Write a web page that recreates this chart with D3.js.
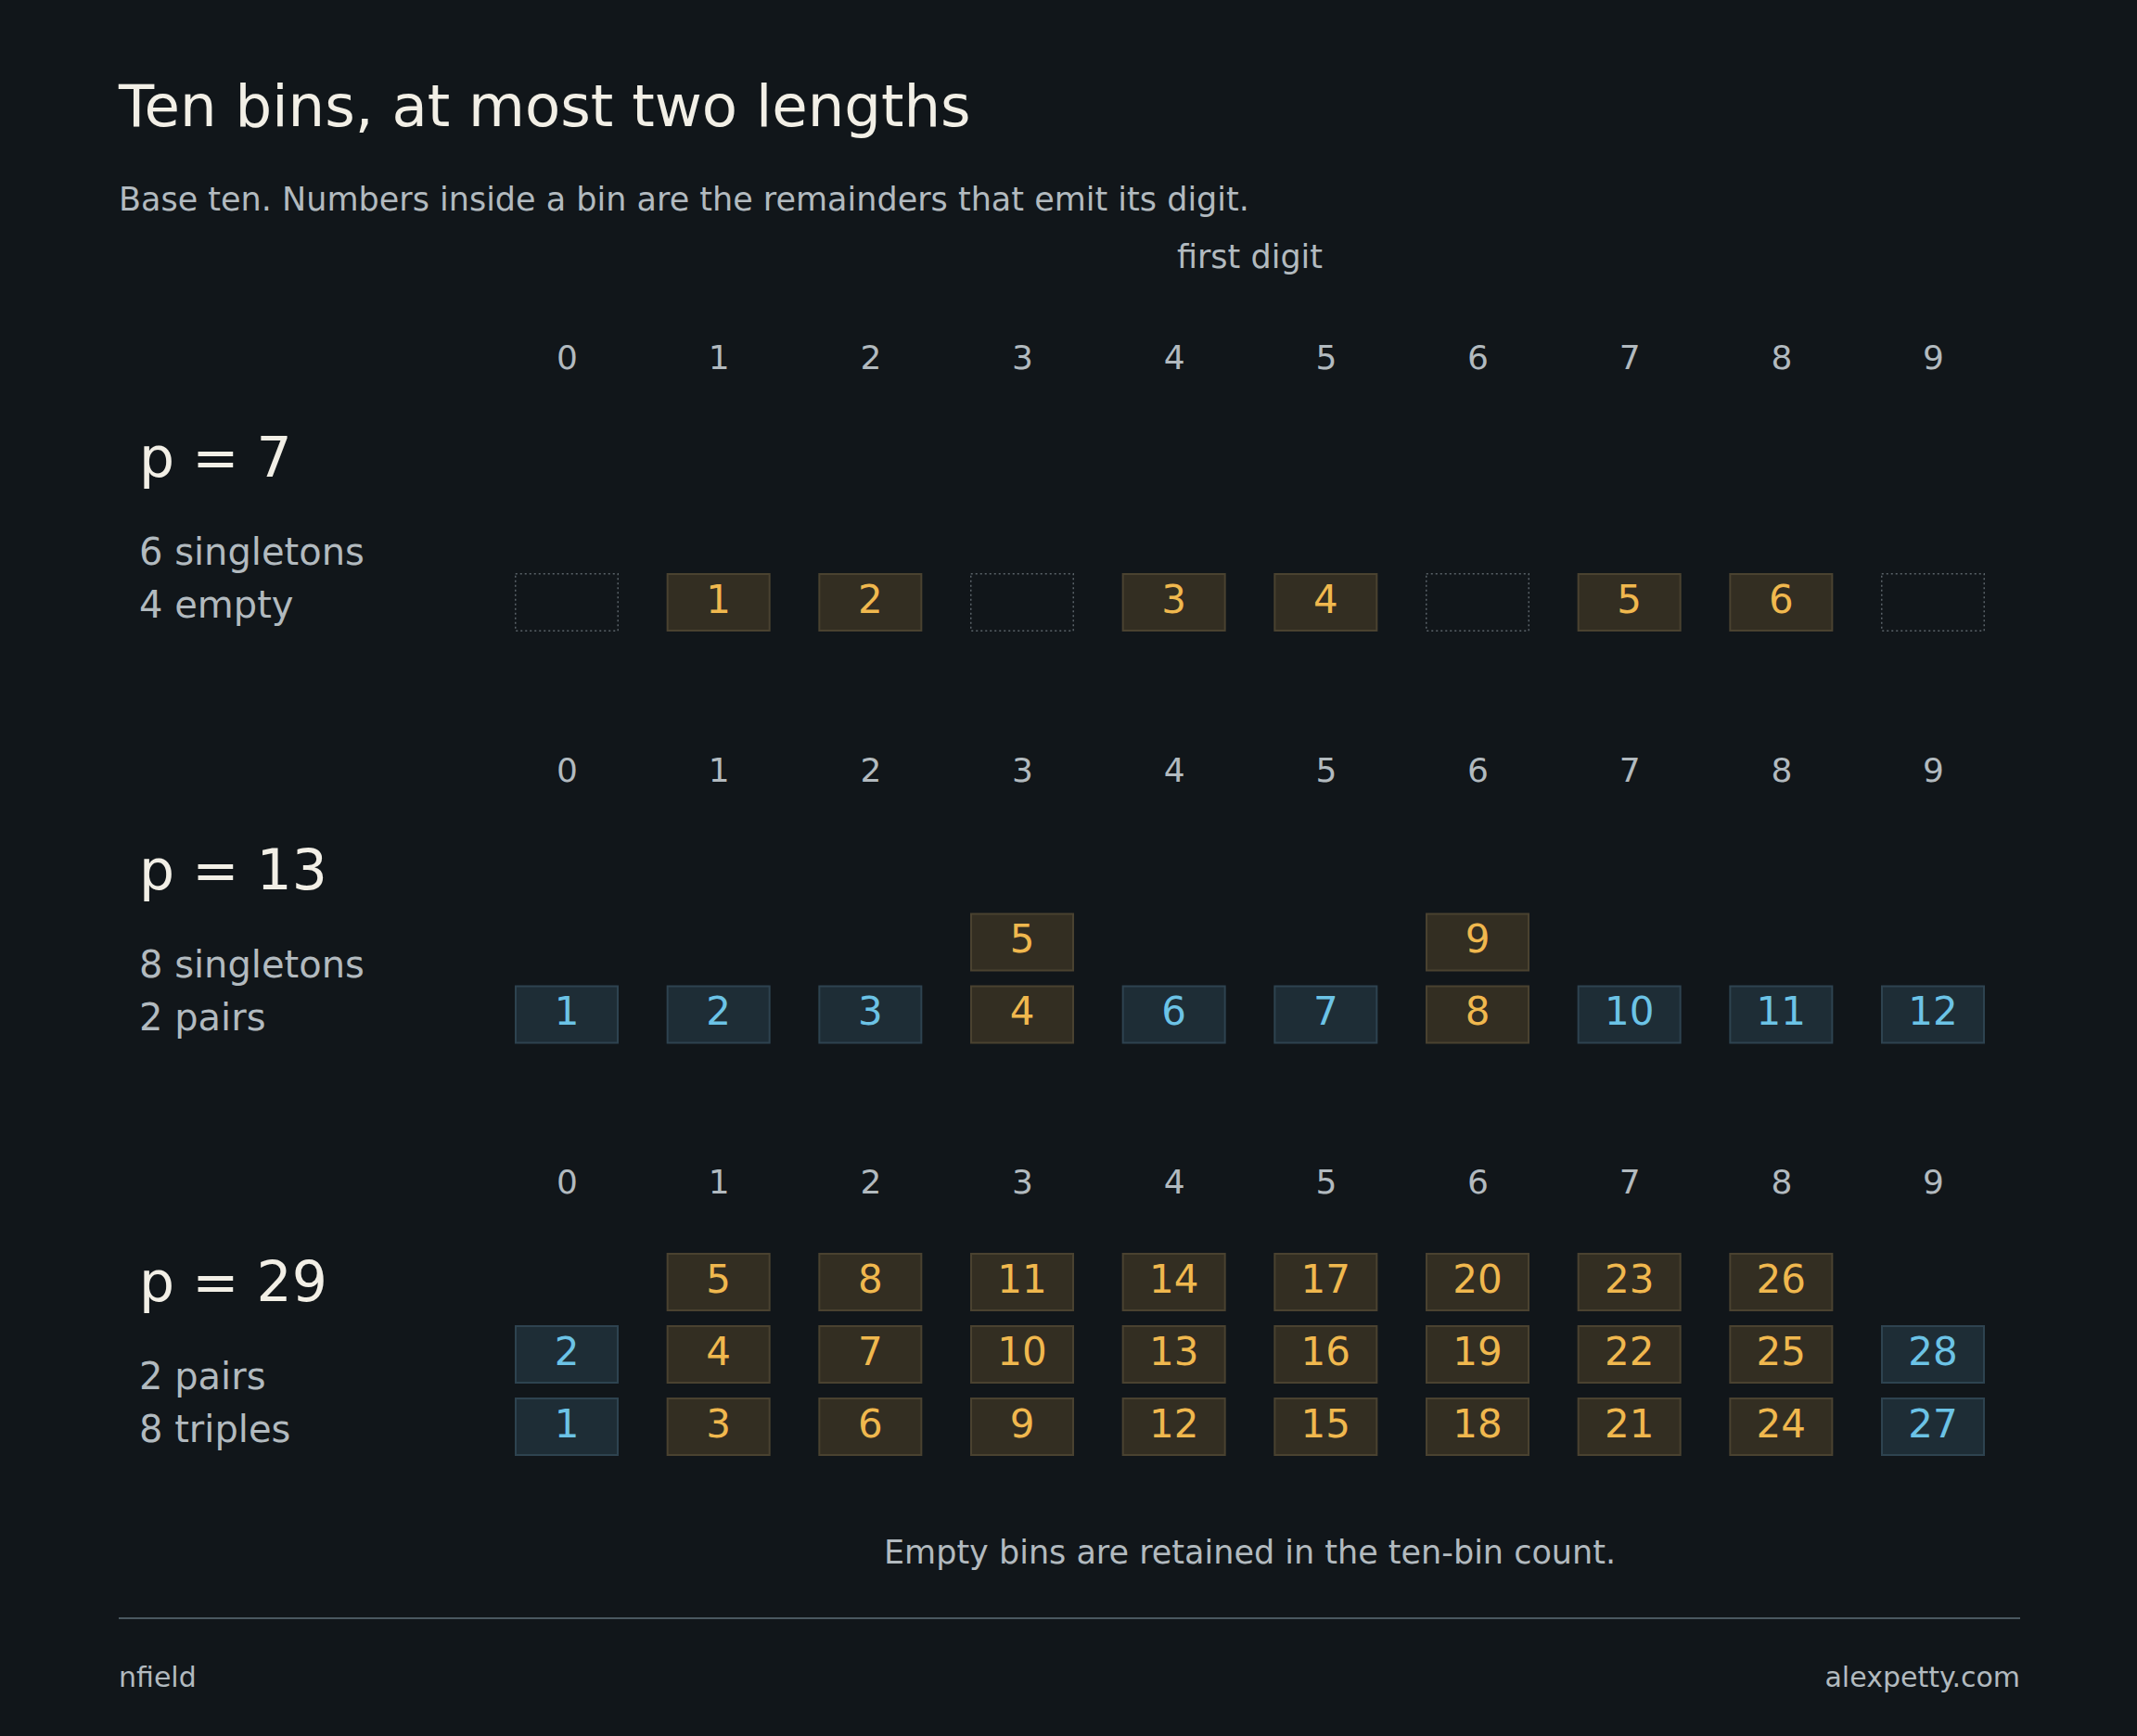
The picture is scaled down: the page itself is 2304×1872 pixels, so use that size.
<!DOCTYPE html>
<html>
<head>
<meta charset="utf-8">
<script src="https://cdn.jsdelivr.net/npm/d3@7"></script>
<style>
  html, body { margin: 0; padding: 0; background: #11161a; }
  svg { display: block; font-family: "DejaVu Sans", sans-serif; }
</style>
</head>
<body>
<div class="chart"></div>
<script>
/* data */
const digitLabels = ["0", "1", "2", "3", "4", "5", "6", "7", "8", "9"];
const primes = [7, 13, 29];
const bins7  = [[], [1], [2], [], [3], [4], [], [5], [6], []];
const bins13 = [[1], [2], [3], [4, 5], [6], [7], [8, 9], [10], [11], [12]];
const bins29 = [[1, 2], [3, 4, 5], [6, 7, 8], [9, 10, 11], [12, 13, 14],
                [15, 16, 17], [18, 19, 20], [21, 22, 23], [24, 25, 26], [27, 28]];
const summaries = [["6 singletons", "4 empty"], ["8 singletons", "2 pairs"], ["2 pairs", "8 triples"]];

const panels = primes.map((p, i) => ({
    p: p,
    bins: [bins7, bins13, bins29][i],
    lines: summaries[i]
}));

/* canvas */
const width = 2304, height = 1872;
const margin = { left: 128, right: 126 };
const boxW = 112, boxH = 63, rowStep = 78;

const svg = d3.select(".chart").append("svg")
    .attr("width", width).attr("height", height);

svg.append("rect").attr("width", width).attr("height", height).attr("fill", "#11161a");

/* scales */
const x = d3.scalePoint().domain(digitLabels).range([611, 2084]);
const panelY = d3.scaleLinear().domain([0, panels.length - 1]).range([0, 889]);
const stackY = d3.scaleLinear().domain([0, 1]).range([618, 618 - rowStep]);

const colours = {
    long:  { fill: "#332e22", stroke: "#4a4230", text: "#f0b84e" },
    short: { fill: "#1e2d36", stroke: "#2e4350", text: "#6cc3e6" }
};

/* header */
svg.append("text").attr("x", margin.left).attr("y", 136)
    .attr("fill", "#f2efe6").attr("font-size", 62.5)
    .text("Ten bins, at most two lengths");
svg.append("text").attr("x", margin.left).attr("y", 227)
    .attr("fill", "#b2babf").attr("font-size", 35)
    .text("Base ten. Numbers inside a bin are the remainders that emit its digit.");
svg.append("text").attr("x", (x("0") + x("9")) / 2).attr("y", 289)
    .attr("text-anchor", "middle")
    .attr("fill", "#b2babf").attr("font-size", 35)
    .text("first digit");

/* panels */
const panelG = svg.selectAll(".panel").data(panels).join("g")
    .attr("class", "panel")
    .attr("transform", (d, i) => `translate(0,${panelY(i)})`);

/* digit axis */
panelG.each(function() {
    const axis = d3.axisTop(x).tickSize(0).tickPadding(0);
    const g = d3.select(this).append("g")
        .attr("class", "x axis")
        .attr("transform", "translate(0,398)")
        .call(axis);
    g.select(".domain").remove();
    g.selectAll("text")
        .attr("fill", "#b2babf")
        .attr("font-size", 36)
        .attr("font-family", "DejaVu Sans, sans-serif")
        .attr("dy", 0);
});

/* left labels */
panelG.append("text").attr("x", 150).attr("y", 514)
    .attr("fill", "#f2efe6").attr("font-size", 60)
    .text(d => `p = ${d.p}`);
panelG.append("text").attr("x", 150).attr("y", 609)
    .attr("fill", "#b2babf").attr("font-size", 40)
    .text(d => d.lines[0]);
panelG.append("text").attr("x", 150).attr("y", 666)
    .attr("fill", "#b2babf").attr("font-size", 40)
    .text(d => d.lines[1]);

/* bins */
panelG.each(function(panel) {
    const g = d3.select(this);
    const maxLen = d3.max(panel.bins, b => b.length);

    const cells = [];
    const empties = [];
    panel.bins.forEach((b, i) => {
        if (b.length === 0) empties.push(digitLabels[i]);
        const kind = b.length === maxLen ? "long" : "short";
        b.forEach((v, k) => cells.push({ digit: digitLabels[i], level: k, value: v, kind: kind }));
    });

    g.selectAll(".empty").data(empties).join("rect")
        .attr("class", "empty")
        .attr("x", d => x(d) - boxW / 2 + 0.75)
        .attr("y", stackY(0) + 0.75)
        .attr("width", boxW - 1.5).attr("height", boxH - 1.5)
        .attr("fill", "none")
        .attr("stroke", "#5a6268").attr("stroke-width", 1.5)
        .attr("stroke-dasharray", "2,3");

    const cell = g.selectAll(".cell").data(cells).join("g")
        .attr("class", "cell")
        .attr("transform", d => `translate(${x(d.digit)},${stackY(d.level)})`);

    cell.append("rect")
        .attr("x", -boxW / 2 + 1).attr("y", 1)
        .attr("width", boxW - 2).attr("height", boxH - 2)
        .attr("fill", d => colours[d.kind].fill)
        .attr("stroke", d => colours[d.kind].stroke)
        .attr("stroke-width", 2);

    cell.append("text")
        .attr("x", 0).attr("y", boxH / 2 + 11)
        .attr("text-anchor", "middle")
        .attr("font-size", 42)
        .attr("fill", d => colours[d.kind].text)
        .text(d => d.value);
});

/* footer */
svg.append("text").attr("x", (x("0") + x("9")) / 2).attr("y", 1686)
    .attr("text-anchor", "middle")
    .attr("fill", "#b2babf").attr("font-size", 35)
    .text("Empty bins are retained in the ten-bin count.");

svg.append("line")
    .attr("x1", margin.left).attr("x2", width - margin.right)
    .attr("y1", 1745).attr("y2", 1745)
    .attr("stroke", "#4a5860").attr("stroke-width", 2);

svg.append("text").attr("x", margin.left).attr("y", 1819)
    .attr("fill", "#b2babf").attr("font-size", 30)
    .text("nfield");
svg.append("text").attr("x", width - margin.right).attr("y", 1819)
    .attr("text-anchor", "end")
    .attr("fill", "#b2babf").attr("font-size", 30)
    .text("alexpetty.com");
</script>
</body>
</html>
